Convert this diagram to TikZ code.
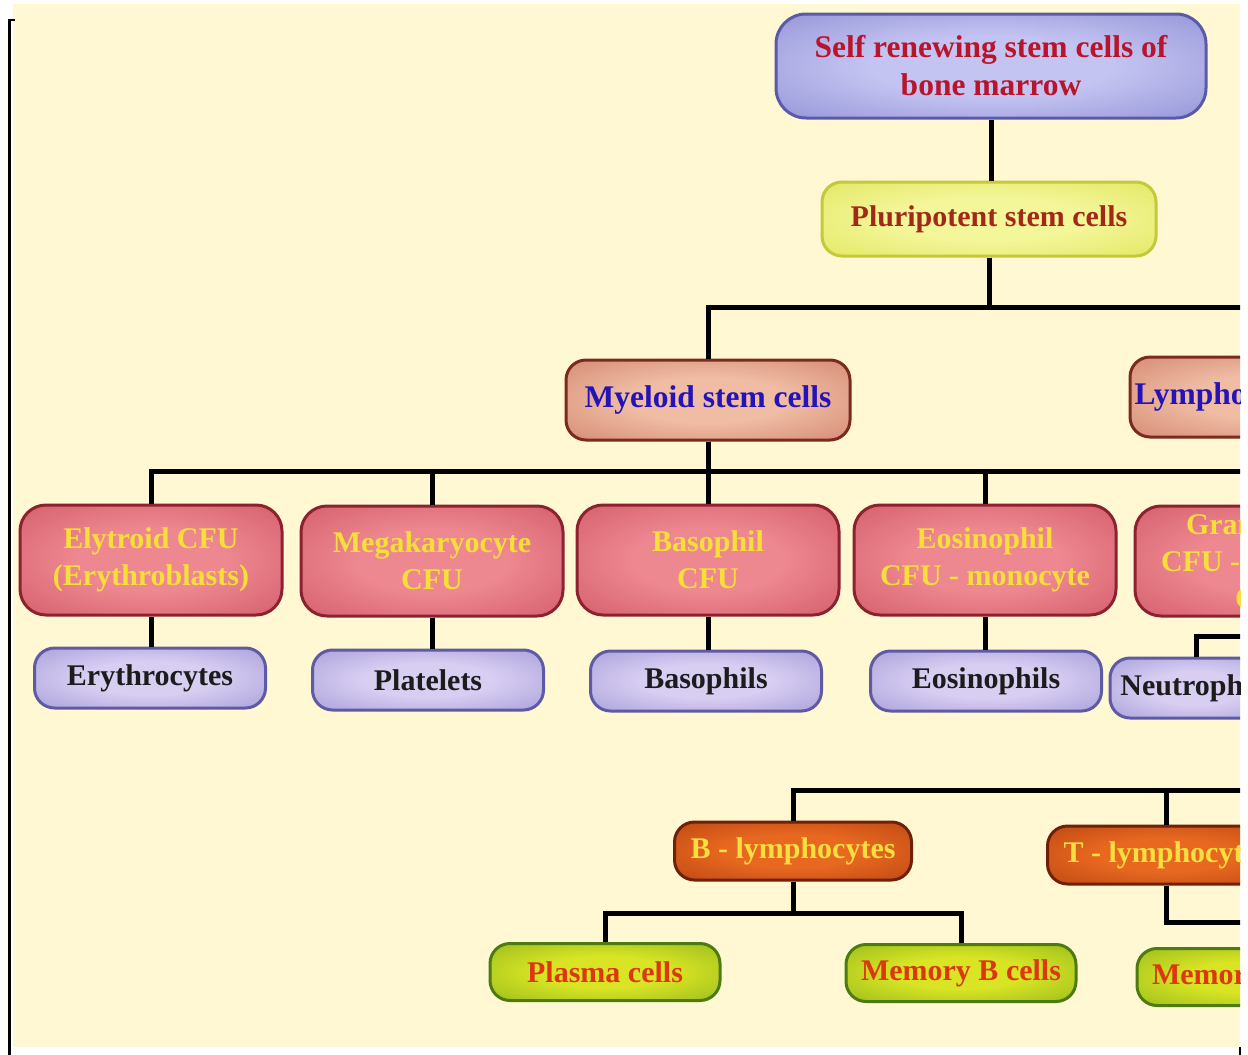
\documentclass[tikz,border=0pt]{standalone}
\usepackage{fontspec}
\setmainfont{Liberation Serif}
\usetikzlibrary{calc}

\definecolor{paper}{HTML}{FFF8D2}
\definecolor{stemin}{HTML}{C4C4F2}
\definecolor{stemout}{HTML}{7878C8}
\definecolor{stemline}{HTML}{5A5AA8}
\definecolor{stemtext}{HTML}{B8142C}
\definecolor{pluriin}{HTML}{F4F69A}
\definecolor{pluriout}{HTML}{D8E040}
\definecolor{pluriline}{HTML}{C4C83A}
\definecolor{pluritext}{HTML}{A22818}
\definecolor{lineagein}{HTML}{F0BCA4}
\definecolor{lineageout}{HTML}{C46C56}
\definecolor{lineageline}{HTML}{7A2A1E}
\definecolor{lineagetext}{HTML}{2414B8}
\definecolor{cfuin}{HTML}{EE8890}
\definecolor{cfuout}{HTML}{C44656}
\definecolor{cfuline}{HTML}{8C2230}
\definecolor{cfutext}{HTML}{F8DE38}
\definecolor{cellin}{HTML}{D8CEF2}
\definecolor{cellout}{HTML}{8C84CC}
\definecolor{cellline}{HTML}{5E5AA4}
\definecolor{celltext}{HTML}{1C1C1C}
\definecolor{lymphin}{HTML}{E86820}
\definecolor{lymphout}{HTML}{A4360C}
\definecolor{lymphline}{HTML}{6E2008}
\definecolor{lymphtext}{HTML}{F6E040}
\definecolor{greenin}{HTML}{D8E424}
\definecolor{greenout}{HTML}{76A618}
\definecolor{greenline}{HTML}{4E7A12}
\definecolor{greentext}{HTML}{DC3810}

\newcommand{\makeglow}[3]{%
	\pgfdeclareradialshading{#1}{\pgfpointorigin}%
		{color(0bp)=(#2); color(14bp)=(#2); color(50bp)=(#3); color(75bp)=(#3)}}
\makeglow{glowstem}{stemin}{stemout}
\makeglow{glowpluri}{pluriin}{pluriout}
\makeglow{glowlineage}{lineagein}{lineageout}
\makeglow{glowcfu}{cfuin}{cfuout}
\makeglow{glowcell}{cellin}{cellout}
\makeglow{glowlymph}{lymphin}{lymphout}
\makeglow{glowgreen}{greenin}{greenout}

\tikzset{
	box/.style={draw, shade, rounded corners=20pt, line width=3pt, align=center,
		inner sep=0pt, font=\bfseries\fontsize{30}{37}\selectfont},
	stembox/.style={box, rounded corners=30pt, shading=glowstem, draw=stemline,
		text=stemtext, minimum width=430pt, minimum height=104pt,
		font=\bfseries\fontsize{31.5}{38}\selectfont},
	pluribox/.style={box, shading=glowpluri, draw=pluriline, text=pluritext,
		minimum width=334pt, minimum height=74pt},
	lineagebox/.style={box, shading=glowlineage, draw=lineageline, text=lineagetext,
		minimum width=284pt, minimum height=80pt,
		font=\bfseries\fontsize{31.5}{38}\selectfont},
	cfubox/.style={box, rounded corners=26pt, shading=glowcfu, draw=cfuline,
		text=cfutext, minimum width=262pt, minimum height=110pt},
	cellbox/.style={box, shading=glowcell, draw=cellline, text=celltext,
		minimum width=231pt, minimum height=60pt},
	lymphbox/.style={box, shading=glowlymph, draw=lymphline, text=lymphtext,
		minimum width=237pt, minimum height=58pt},
	greenbox/.style={box, shading=glowgreen, draw=greenline, text=greentext,
		minimum width=230pt, minimum height=57pt},
	link/.style={line width=5pt}
}

\begin{document}
\begin{tikzpicture}[x=1pt, y=-1pt]
	\useasboundingbox (0,0) rectangle (1248,1055);
	\fill[white] (0,0) rectangle (1248,1055);
	\fill[paper] (13,4) rectangle (1240,1047);
	\draw[line width=3pt] (9,20) -- (9,1055);
	\draw[line width=2pt] (8,20) -- (15,20);
	\draw[line width=2pt] (1240,1047) -- (1240,1055);

	\begin{scope}
	\clip (13,4) rectangle (1240,1047);

	\node[stembox] (marrow) at (991,66)
		{Self renewing stem cells of\\bone marrow};
	\node[pluribox] (pluri) at (989,219) {Pluripotent stem cells};

	\node[lineagebox] (myeloid)  at (708,400)  {Myeloid stem cells};
	\node[lineagebox] (lymphoid) at (1272,397) {Lymphoid stem cells};

	\node[cfubox] (elytroid)  at (151,560)  {Elytroid CFU\\(Erythroblasts)};
	\node[cfubox] (megakaryo) at (432,561)  {Megakaryocyte\\CFU};
	\node[cfubox] (basocfu)   at (708,560)  {Basophil\\CFU};
	\node[cfubox] (eosicfu)   at (985,560)  {Eosinophil\\CFU - monocyte};
	\node[cfubox] (granucfu)  at (1266,561) {Granulocyte\\CFU - monocyte\\CFU};

	\node[cellbox] (erythro)    at (150,678) {Erythrocytes};
	\node[cellbox] (platelet)   at (428,680) {Platelets};
	\node[cellbox] (basophil)   at (706,681) {Basophils};
	\node[cellbox] (eosinophil) at (986,681) {Eosinophils};
	\node[cellbox, minimum width=172pt] (neutrophil) at (1196,688) {Neutrophils};

	\node[lymphbox] (blymph) at (793,851)  {B - lymphocytes};
	\node[lymphbox] (tlymph) at (1166,855) {T - lymphocytes};

	\node[greenbox] (plasma)  at (605,972)  {Plasma cells};
	\node[greenbox] (memoryb) at (961,973)  {Memory B cells};
	\node[greenbox] (memoryt) at (1252,977) {Memory T cells};

	\coordinate (lymphbus) at (1260,790);

	\draw[link] (marrow.south) -- (marrow.south |- pluri.north);
	\draw[link] (pluri.south) -- ++(0,50) -| (myeloid.north);
	\draw[link] (pluri.south) -- ++(0,50) -| (lymphoid.north);
	\foreach \cfu in {elytroid, megakaryo, basocfu, eosicfu, granucfu}
		\draw[link] (myeloid.south) -- ++(0,30) -| (\cfu.north);
	\draw[link] (elytroid.south) -- (elytroid.south |- erythro.north);
	\draw[link] (megakaryo.south) -- (megakaryo.south |- platelet.north);
	\draw[link] (basocfu.south) -- (basocfu.south |- basophil.north);
	\draw[link] (eosicfu.south) -- (eosicfu.south |- eosinophil.north);
	\draw[link] (neutrophil.north) -- ++(0,-20) -| (granucfu.south);
	\draw[link] (lymphbus) -| (blymph.north);
	\draw[link] (tlymph.north) -- (tlymph.north |- lymphbus);
	\draw[link] (blymph.south) -- ++(0,32) -| (plasma.north);
	\draw[link] (blymph.south) -- ++(0,32) -| (memoryb.north);
	\draw[link] (tlymph.south) -- ++(0,37) -| (memoryt.north);
	\end{scope}
\end{tikzpicture}
\end{document}
